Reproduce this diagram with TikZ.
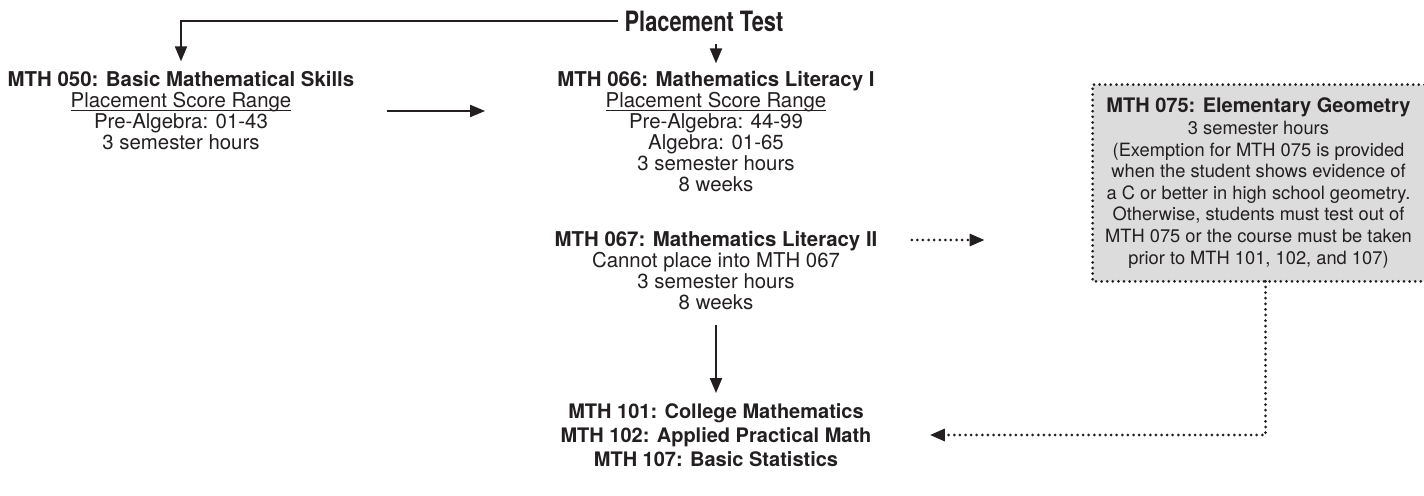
\documentclass[tikz,border=0pt]{standalone}
\usepackage{fontspec}
\setmainfont{TeX Gyre Heros}
\newfontfamily\testfont[FakeStretch=0.78]{TeX Gyre Heros}
\usepackage{xcolor}
\usetikzlibrary{arrows.meta}
\def\normaledge{1pt}
\definecolor{textblack}{HTML}{231F20}
\definecolor{boxgray}{HTML}{DCDCDC}
\newcommand\scoreline[1]{\setbox0\hbox{#1}\rlap{\rule[-1.6pt]{\wd0}{0.55pt}}\box0}
\tikzset{
  course/.style={align=center, inner sep=0pt, text=textblack, font=\fontsize{10.2}{10.5}\selectfont},
  geobox/.style={align=center, inner sep=0pt, fill=boxgray, text=textblack,
    minimum width=165.5pt, minimum height=98pt, font=\fontsize{9.15}{10.8}\selectfont},
  solidarrow/.style={line width=\normaledge, color=textblack, -{Triangle[length=7.5pt,width=6pt]}},
  dotline/.style={line width=1.5pt, color=textblack, line cap=round, dash pattern=on 0pt off 2.8pt},
  dotarrow/.style={dotline, -{Triangle[length=7.5pt,width=6pt]}},
}

\begin{document}
\begin{tikzpicture}[x = 0.5pt, y = -0.5pt]
        \useasboundingbox (0,0) rectangle (1424,496);

            \node [inner sep=0pt, text=textblack, font=\testfont\fontsize{14}{16}\selectfont\bfseries] (test) at (704,21) {Placement Test};

            \node [course] (m050) at (181,111) {\textbf{MTH 050: Basic Mathematical Skills}\\
                \scoreline{Placement Score Range}\\ Pre-Algebra: 01-43\\ 3 semester hours};

            \node [course] (m066) at (716,132) {\textbf{MTH 066: Mathematics Literacy I}\\
                \scoreline{Placement Score Range}\\ Pre-Algebra: 44-99\\ Algebra: 01-65\\
                3 semester hours\\ 8 weeks};

            \node [course] (m067) at (716,271) {\textbf{MTH 067: Mathematics Literacy II}\\
                Cannot place into MTH 067\\ 3 semester hours\\ 8 weeks};

            \node [geobox] (m075) at (1258.5,183) {{\fontsize{10}{10.8}\selectfont\bfseries MTH 075: Elementary Geometry}\\
                3 semester hours\\ (Exemption for MTH 075 is provided\\ when the student shows evidence of\\
                a C or better in high school geometry.\\ Otherwise, students must test out of\\
                MTH 075 or the course must be taken\\ prior to MTH 101, 102, and 107)};
        \draw [dotline] (m075.north east) -- (m075.north west) -- (m075.south west) -- (m075.south east);

            \node [course, font=\fontsize{10}{12}\selectfont\bfseries] (m101) at (716,435) {MTH 101: College Mathematics\\
                MTH 102: Applied Practical Math\\ MTH 107: Basic Statistics};

        \draw [solidarrow, shorten <=3pt, shorten >=5pt] (test.west) -| (m050.north);
        \draw [solidarrow, shorten <=6pt, shorten >=4pt] (test.south -| m066.north) -- (m066.north);
        \draw [solidarrow, shorten <=16pt, shorten >=36pt] (m050.east) -- (m050.east -| m066.west);

        \draw [dotarrow, shorten <=17pt, shorten >=54pt] ([yshift=15.5pt]m067.east) -- ([yshift=15.5pt]m067.east -| m075.west);
        \draw [solidarrow, shorten <=7pt, shorten >=5pt] (m067.south) -- (m101.north);
        \draw [dotarrow, shorten >=29pt] ([xshift=3.5pt]m075.south) |- (m101.east);

\end{tikzpicture}
\end{document}
